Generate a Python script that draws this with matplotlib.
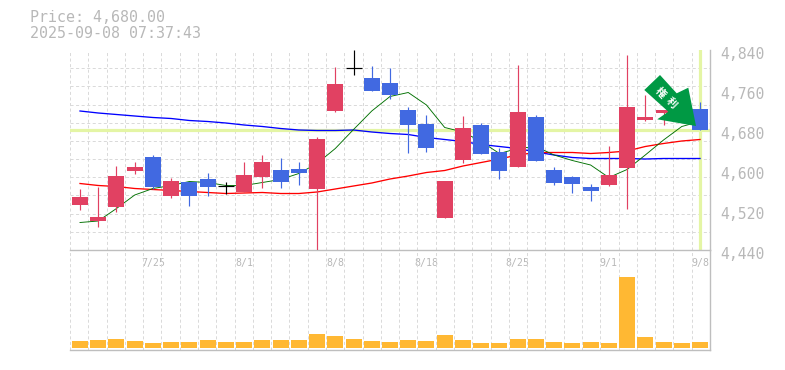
import matplotlib
matplotlib.use("Agg")
import matplotlib.pyplot as plt
import numpy as np
from matplotlib.patches import Polygon
from matplotlib.transforms import ScaledTranslation

plt.rcParams["lines.scale_dashes"] = False

# candles, oldest first
opens = [4531, 4498, 4527, 4598, 4626, 4548, 4576, 4582, 4568, 4556, 4586, 4600,
         4602, 4562, 4718, 4805, 4784, 4774, 4720, 4692, 4504, 4620, 4690, 4636,
         4606, 4706, 4600, 4586, 4566, 4570, 4604, 4700, 4714, 4740, 4722]
closes = [4546, 4506, 4588, 4606, 4566, 4578, 4548, 4566, 4568, 4590, 4616, 4576,
          4594, 4662, 4772, 4805, 4758, 4750, 4690, 4644, 4578, 4684, 4632, 4598,
          4716, 4618, 4574, 4572, 4558, 4590, 4726, 4706, 4720, 4720, 4680]
highs = [4562, 4567, 4609, 4616, 4630, 4584, 4576, 4594, 4576, 4616, 4630, 4624,
         4616, 4666, 4806, 4840, 4808, 4804, 4726, 4710, 4578, 4708, 4694, 4644,
         4810, 4710, 4606, 4588, 4572, 4648, 4830, 4750, 4720, 4745, 4736]
lows = [4520, 4487, 4517, 4592, 4562, 4544, 4528, 4548, 4553, 4556, 4564, 4564,
        4570, 4440, 4716, 4791, 4758, 4742, 4634, 4636, 4504, 4614, 4632, 4582,
        4606, 4618, 4570, 4554, 4538, 4568, 4522, 4698, 4690, 4716, 4680]

# moving averages
ma_blue = [4718, 4714, 4711, 4708, 4705, 4703, 4699, 4697, 4694, 4690, 4687, 4683,
           4680, 4679, 4679, 4680, 4676, 4673, 4671, 4665, 4661, 4657, 4651, 4647,
           4643, 4636, 4630, 4625, 4623, 4623, 4623, 4622, 4623, 4623, 4623]
ma_red = [4573, 4569, 4567, 4563, 4561, 4559, 4557, 4555, 4553, 4554, 4555, 4553,
          4553, 4556, 4562, 4568, 4574, 4582, 4588, 4595, 4599, 4608, 4615, 4622,
          4630, 4635, 4635, 4635, 4633, 4635, 4638, 4647, 4653, 4658, 4661]
ma_green = [4495, 4498, 4523, 4550, 4563, 4569, 4577, 4575, 4569, 4569, 4575, 4581,
            4593, 4613, 4643, 4681, 4718, 4747, 4755, 4730, 4685, 4676, 4657, 4633,
            4643, 4647, 4630, 4619, 4610, 4585, 4601, 4630, 4660, 4687, 4697]

volumes = [7, 8, 9, 7, 5, 6, 6, 8, 6, 6, 8, 8, 8, 14, 12, 9, 7, 6,
           8, 7, 13, 8, 5, 5, 9, 9, 6, 5, 6, 5, 71, 11, 6, 5, 6]

price_ticks = [4440, 4520, 4600, 4680, 4760, 4840]
price_labels = ["4,440", "4,520", "4,600", "4,680", "4,760", "4,840"]
date_pos = [4, 9, 14, 19, 24, 29, 34]
date_labels = ["7/25", "8/1", "8/8", "8/18", "8/25", "9/1", "9/8"]
last_price = 4680

W, H = 785, 370
RED = "#E14162"
BLUE = "#4169E1"
GRID = "#DADADA"
TXT = "#B8B8B8"
AXIS = "#BEBEBE"
PALE = "#E4F5A5"
px = 0.72  # one pixel in points

fig = plt.figure(figsize=(W / 100, H / 100), dpi=100)
ax = fig.add_axes([70 / W, 1 - 250 / H, 640 / W, 200 / H])
vol = fig.add_axes([70 / W, 1 - 350 / H, 640 / W, 100 / H])
vol.patch.set_visible(False)

x = np.arange(len(opens))
x0 = -10 / 18.235
x1 = 34 + 10 / 18.235
grid_x = np.linspace(x0, x1, 36)

# price panel
ax.set_xlim(x0, x1)
ax.set_ylim(4440, 4840)
ax.set_xticks(grid_x, minor=True)
ax.set_yticks(np.linspace(4440, 4840, 12), minor=True)
ax.grid(which="minor", color=GRID, lw=px, ls=(0, (2.2, 1.8)), zorder=0)
ax.set_axisbelow(True)
ax.axhline(last_price, color=PALE, lw=2.3, zorder=1)
ax.axvline(34, color=PALE, lw=2.3, zorder=1)

ax.plot(x, ma_blue, color="#0000FF", lw=0.95, zorder=2)
ax.plot(x, ma_red, color="#FF0000", lw=0.95, zorder=2)
ax.plot(x, ma_green, color="#007000", lw=0.65, zorder=2)

for i in x:
    if closes[i] == opens[i]:
        c = "black"
    elif closes[i] > opens[i]:
        c = RED
    else:
        c = BLUE
    ax.plot([i, i], [lows[i], highs[i]], color=c, lw=0.85, zorder=3, solid_capstyle="butt", snap=True)
    if c == "black":
        ax.plot([i - 0.44, i + 0.44], [closes[i], closes[i]], color=c, lw=0.85, zorder=3,
                solid_capstyle="butt", snap=True)
    else:
        ax.bar(i, abs(closes[i] - opens[i]), bottom=min(opens[i], closes[i]),
               width=0.877, color=c, lw=0, zorder=3)

ax.set_xticks(date_pos, date_labels)
ax.set_yticks(price_ticks, price_labels)
ax.yaxis.tick_right()
ax.tick_params(which="both", length=0)
ax.tick_params(axis="x", pad=6, labelsize=7.1, labelcolor=TXT)
ax.tick_params(axis="y", pad=7.5, labelsize=10.6, labelcolor=TXT)
for lab in ax.get_xticklabels() + ax.get_yticklabels():
    lab.set_family("DejaVu Sans Mono")
for lab in ax.get_yticklabels():
    lab.set_transform(lab.get_transform() + ScaledTranslation(0, -3 / 100, fig.dpi_scale_trans))
for s in ["left", "top"]:
    ax.spines[s].set_visible(False)
for s in ["right", "bottom"]:
    ax.spines[s].set_color(AXIS)
    ax.spines[s].set_linewidth(1.0)

# volume panel
vol.set_xlim(x0, x1)
vol.set_ylim(-2, 98)
vol.set_xticks(grid_x, minor=True)
vol.set_xticks([])
vol.set_yticks([])
vol.grid(which="minor", axis="x", color=GRID, lw=px, ls=(0, (2.2, 1.8)), zorder=0)
vol.set_axisbelow(True)
vol.bar(x, volumes, width=0.877, color="#FFB833", lw=0, zorder=3)
vol.tick_params(which="both", length=0)
for s in ["left", "top"]:
    vol.spines[s].set_visible(False)
for s in ["right", "bottom"]:
    vol.spines[s].set_color(AXIS)
    vol.spines[s].set_linewidth(1.0)

# header
fig.text(30 / W, 1 - 18 / H, "Price: 4,680.00", color=TXT, fontsize=10.8,
         family="DejaVu Sans Mono", va="center", ha="left")
fig.text(30 / W, 1 - 33 / H, "2025-09-08 07:37:43", color=TXT, fontsize=10.8,
         family="DejaVu Sans Mono", va="center", ha="left")

# event arrow
arrow_px = [(660, 75), (676.7, 93.3), (688.3, 87.7), (696, 126), (657.3, 119.3),
            (668.3, 111.7), (644.3, 90)]
arrow = Polygon([(a / W, 1 - b / H) for a, b in arrow_px], closed=True, transform=fig.transFigure,
                facecolor="#009944", edgecolor="none", zorder=10)
fig.add_artist(arrow)
for ch, a, b in [("権", 660, 93.3), ("利", 671.7, 103.3)]:
    fig.text(a / W, 1 - b / H, ch, color="white", fontsize=7.5, family="Noto Sans CJK JP",
             weight="bold", rotation=-45, ha="center", va="center", zorder=11)

fig.savefig("out.png", dpi=100)
